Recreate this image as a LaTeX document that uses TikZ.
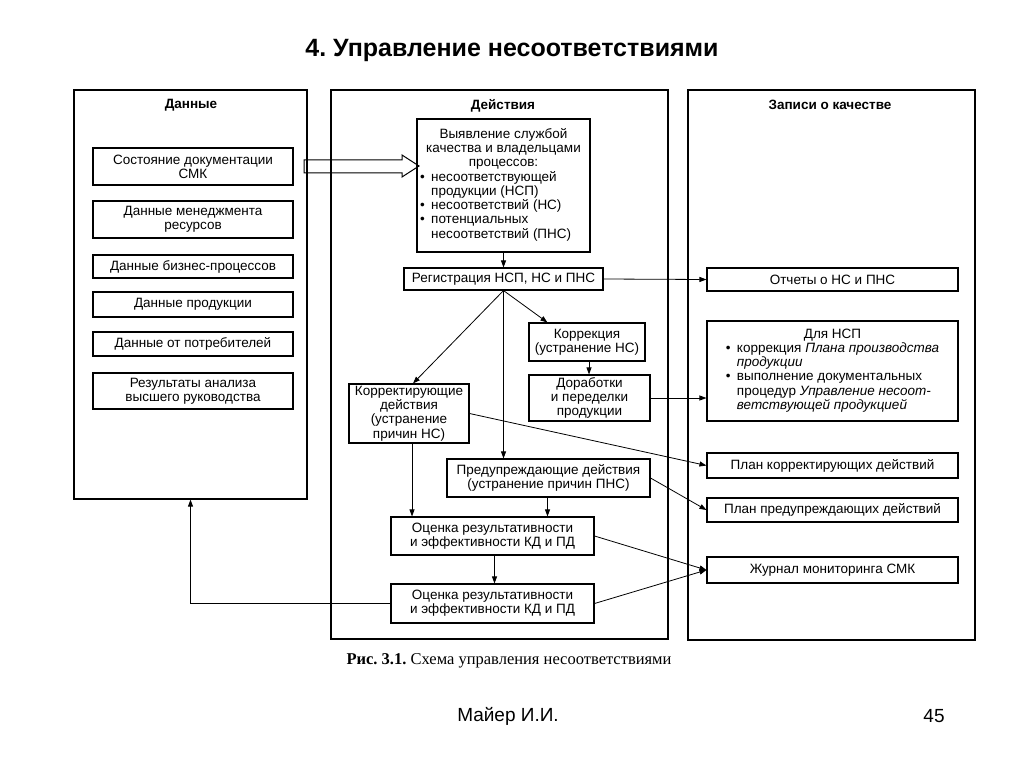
\documentclass[tikz,border=0pt]{standalone}
\usepackage{fontspec}
\setmainfont{Liberation Sans}
\newfontfamily\capfont{Liberation Serif}
\usetikzlibrary{arrows.meta}
\frenchspacing
\tikzset{
  panel/.style={draw, line width=1.2pt, inner sep=0pt},
  box/.style={draw, line width=1.1pt, align=center, inner sep=0.5pt,
    font=\fontsize{13.5}{14.2}\selectfont},
  head/.style={font=\bfseries\fontsize{13.5}{15}\selectfont},
  conn/.style={line width=0.8pt, -{Triangle[length=7pt,width=5pt]}},
}
\begin{document}
\begin{tikzpicture}[x=1pt,y=-1pt]
\useasboundingbox (0,0) rectangle (1024,767);
% title
\node[font=\bfseries\fontsize{25}{28}\selectfont] (title) at (512,50) {4. Управление несоответствиями};
% panels
\node[panel, minimum width=233, minimum height=409] (pd) at (190.5,294.5) {};
\node[panel, minimum width=337, minimum height=549] (pa) at (499.5,364.5) {};
\node[panel, minimum width=287, minimum height=550] (pr) at (831.5,365) {};
\node[head] (hd) at (191,105) {Данные};
\node[head] (ha) at (503,106) {Действия};
\node[head] (hr) at (830,105) {Записи о качестве};
% left boxes
\node[box, minimum width=200, minimum height=37] (s1) at (193,166.5) {Состояние документации\\СМК};
\node[box, minimum width=200, minimum height=37] (s2) at (193,219.5) {Данные менеджмента\\ресурсов};
\node[box, minimum width=200, minimum height=23] (s3) at (193,266.5) {Данные бизнес-процессов};
\node[box, minimum width=200, minimum height=25] (s4) at (193,304.5) {Данные продукции};
\node[box, minimum width=200, minimum height=24] (s5) at (193,344) {Данные от потребителей};
\node[box, minimum width=200, minimum height=36] (s6) at (193,391) {Результаты анализа\\высшего руководства};
% middle boxes
\node[box, minimum width=173, minimum height=133] (vy) at (503.5,185.5) {%
\begin{tabular}{@{}p{11pt}@{}l@{}}
\multicolumn{2}{c}{Выявление службой}\\
\multicolumn{2}{c}{качества и владельцами}\\
\multicolumn{2}{c}{процессов:}\\
\textbullet & несоответствующей\\
 & продукции (НСП)\\
\textbullet & несоответствий (НС)\\
\textbullet & потенциальных\\
 & несоответствий (ПНС)
\end{tabular}};
\node[box, minimum width=199, minimum height=22] (reg) at (503.5,279) {Регистрация НСП, НС и ПНС};
\node[box, minimum width=116, minimum height=38] (kor) at (587,342) {Коррекция\\(устранение НС)};
\node[box, minimum width=121, minimum height=46] (dor) at (589.5,398) {Доработки\\и переделки\\продукции};
\node[box, minimum width=120, minimum height=59] (kd) at (409,413.5) {Корректирующие\\действия\\(устранение\\причин НС)};
\node[box, minimum width=203, minimum height=38] (pd2) at (548.5,478) {Предупреждающие действия\\(устранение причин ПНС)};
\node[box, minimum width=203, minimum height=38] (oc1) at (492.5,536) {Оценка результативности\\и эффективности КД и ПД};
\node[box, minimum width=203, minimum height=39] (oc2) at (492.5,603.5) {Оценка результативности\\и эффективности КД и ПД};
% right boxes
\node[box, minimum width=251, minimum height=23] (ot) at (832.5,279.5) {Отчеты о НС и ПНС};
\node[box, minimum width=251, minimum height=100] (dn) at (832.5,371) {%
\begin{tabular}{@{}p{11pt}@{}l@{}}
\multicolumn{2}{c}{Для НСП}\\
\textbullet & коррекция \textit{Плана производства}\\
 & \textit{продукции}\\
\textbullet & выполнение документальных\\
 & процедур \textit{Управление несоот-}\\
 & \textit{ветствующей продукцией}
\end{tabular}};
\node[box, minimum width=251, minimum height=25] (pk) at (832.5,465.5) {План корректирующих действий};
\node[box, minimum width=251, minimum height=24] (pp) at (832.5,510) {План предупреждающих действий};
\node[box, minimum width=251, minimum height=26] (jr) at (832.5,570) {Журнал мониторинга СМК};
% big hollow arrow
\draw[line width=1pt, line join=miter] (304,160) -- (402,160) -- (402,155) -- (419,166) -- (402,177) -- (402,173) -- (304,173) -- cycle;
% connectors
\draw[conn] (vy.south) -- (reg.north);
\draw[conn] (reg.east) -- (ot.west);
\draw[conn] (reg.south) -- ([xshift=4pt]kd.north);
\draw[conn] (reg.south) -- ([xshift=19pt]kor.north west);
\draw[conn] (reg.south) -- (reg.south |- pd2.north);
\draw[conn] ([xshift=2pt]kor.south) -- ([xshift=2pt]kor.south |- dor.north);
\draw[conn] ([xshift=3pt]kd.south) -- ([xshift=3pt]kd.south |- oc1.north);
\draw[conn] ([xshift=-1pt]pd2.south) -- ([xshift=-1pt]pd2.south |- oc1.north);
\draw[conn] ([xshift=2pt]oc1.south) -- ([xshift=2pt]oc1.south |- oc2.north);
\draw[conn] (oc2.west) -| (pd.south);
\draw[conn] (dor.east) -- (dor.east -| dn.west);
\draw[conn] (kd.east) -- (pk.west);
\draw[conn] (pd2.east) -- (pp.west);
\draw[conn] (oc1.east) -- (jr.west);
\draw[conn] (oc2.east) -- (jr.west);
% caption and footer
\node[anchor=west, font=\capfont\fontsize{16.5}{18}\selectfont] (cap) at (343,661) {\textbf{Рис. 3.1.} Схема управления несоответствиями};
\node[font=\fontsize{19}{21}\selectfont] (au) at (508,716) {Майер И.И.};
\node[font=\fontsize{19}{21}\selectfont] (pg) at (934,716) {45};
\end{tikzpicture}
\end{document}
